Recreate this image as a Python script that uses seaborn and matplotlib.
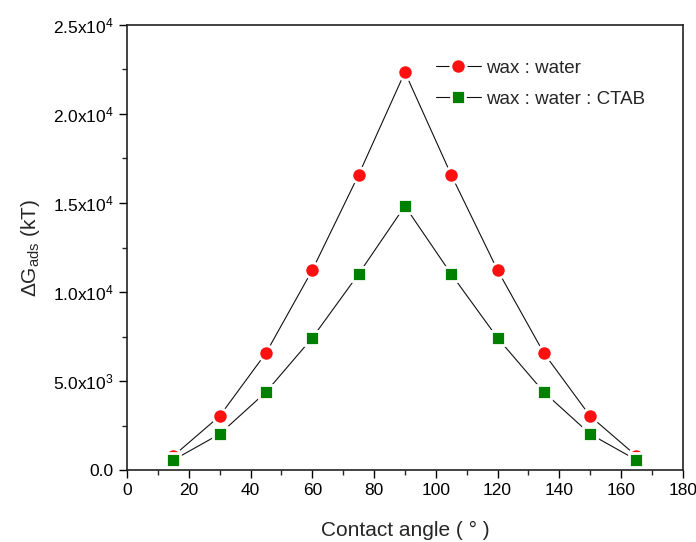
import matplotlib
matplotlib.use('Agg')
import matplotlib.pyplot as plt
import seaborn as sns
import pandas as pd
from matplotlib.ticker import MultipleLocator, FuncFormatter

# data
angle = [15, 30, 45, 60, 75, 90, 105, 120, 135, 150, 165]
g_water = [790, 3030, 6570, 11230, 16580, 22350, 16580, 11230, 6570, 3030, 790]
g_ctab = [560, 2020, 4380, 7420, 11010, 14830, 11010, 7420, 4380, 2020, 560]

sns.set_style('ticks')
plt.rcParams['font.family'] = ['Liberation Sans', 'DejaVu Sans']
plt.rcParams['mathtext.fontset'] = 'custom'
plt.rcParams['mathtext.rm'] = 'Liberation Sans'
plt.rcParams['mathtext.it'] = 'Liberation Sans'

df = pd.DataFrame({'angle': angle, 'water': g_water, 'ctab': g_ctab})

fig = plt.figure(figsize=(6.96, 5.42), dpi=100)
ax = fig.add_axes([0.1825, 0.1328, 0.7985, 0.8211])

# white edge around markers gives the small gap between line and marker
sns.lineplot(data=df, x='angle', y='water', ax=ax, color='#111111', lw=0.8,
             marker='o', markersize=11, markerfacecolor='#ff1010',
             markeredgecolor='white', markeredgewidth=2,
             label='wax : water')
sns.lineplot(data=df, x='angle', y='ctab', ax=ax, color='#111111', lw=0.8,
             marker='s', markersize=10.5, markerfacecolor='#008000',
             markeredgecolor='white', markeredgewidth=2,
             label='wax : water : CTAB')

ax.set_xlim(0, 180)
ax.set_ylim(0, 25000)
ax.xaxis.set_major_locator(MultipleLocator(20))
ax.xaxis.set_minor_locator(MultipleLocator(10))
ax.yaxis.set_major_locator(MultipleLocator(5000))
ax.yaxis.set_minor_locator(MultipleLocator(2500))


def sci(v, pos):
    if v == 0:
        return '0.0'
    e = 0
    m = v
    while abs(m) >= 10:
        m /= 10
        e += 1
    return f'{m:.1f}x10$^{{{e}}}$'


ax.yaxis.set_major_formatter(FuncFormatter(sci))
ax.tick_params(which='major', direction='out', length=6, width=1, labelsize=12.5,
               colors='black')
ax.tick_params(which='minor', direction='out', length=3.5, width=1)
for s in ax.spines.values():
    s.set_linewidth(1.2)
    s.set_color('#222222')

ax.set_xlabel('Contact angle ( ° )', fontsize=15, labelpad=16)
ax.set_ylabel('ΔG$_{\\mathrm{ads}}$ (kT)', fontsize=15, labelpad=8)

leg = ax.legend(loc='upper left', frameon=False, fontsize=13.5,
                bbox_to_anchor=(0.525, 0.96), handlelength=2.4,
                handletextpad=0.3, labelspacing=0.75)

fig.savefig('out.png', dpi=100)
